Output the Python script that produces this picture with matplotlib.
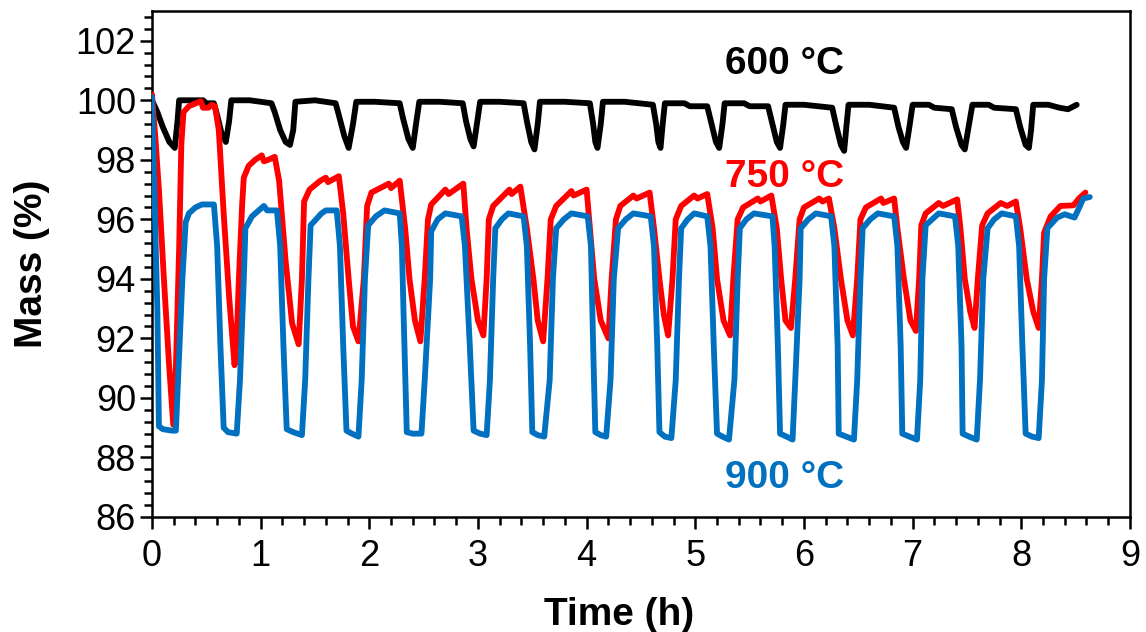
import matplotlib
matplotlib.use("Agg")
import matplotlib.pyplot as plt
from matplotlib.ticker import MultipleLocator, AutoMinorLocator

plt.rcParams['font.family'] = ['Liberation Sans', 'DejaVu Sans']

# ---- cyclic TGA data: time (h) and mass (%) ----
time_600 = [0.00, 0.05, 0.10, 0.16, 0.21, 0.235, 0.25, 0.40, 0.47, 0.50, 0.57,
            0.60, 0.64, 0.68, 0.71, 0.73, 0.90, 1.10,
            1.13, 1.18, 1.23, 1.27, 1.30, 1.32, 1.50, 1.69,
            1.72, 1.77, 1.81, 1.85, 1.88, 2.05, 2.28,
            2.31, 2.36, 2.40, 2.43, 2.46, 2.65, 2.86,
            2.89, 2.93, 2.96, 2.99, 3.02, 3.20, 3.42,
            3.45, 3.49, 3.52, 3.55, 3.57, 3.80, 4.03,
            4.06, 4.08, 4.10, 4.13, 4.15, 4.35, 4.61,
            4.64, 4.66, 4.68, 4.70, 4.72, 4.90, 4.95, 5.11,
            5.15, 5.19, 5.22, 5.25, 5.27, 5.45, 5.50, 5.67,
            5.71, 5.75, 5.78, 5.81, 5.83, 6.00, 6.26,
            6.30, 6.34, 6.37, 6.39, 6.41, 6.60, 6.83,
            6.87, 6.91, 6.94, 6.97, 7.00, 7.15, 7.20, 7.36,
            7.40, 7.45, 7.48, 7.51, 7.55, 7.70, 7.75, 7.95,
            7.99, 8.04, 8.07, 8.09, 8.11, 8.25, 8.35, 8.43, 8.51]
mass_600 = [100.0, 99.6, 99.1, 98.6, 98.4, 99.3, 100.0, 100.0, 100.0, 99.9, 99.9,
            99.5, 98.9, 98.6, 99.3, 100.0, 100.0, 99.9,
            99.6, 99.0, 98.6, 98.5, 99.0, 99.95, 100.0, 99.9,
            99.5, 98.8, 98.4, 99.2, 99.95, 99.95, 99.9,
            99.4, 98.7, 98.4, 99.2, 99.95, 99.95, 99.9,
            99.3, 98.7, 98.45, 99.2, 99.95, 99.95, 99.9,
            99.3, 98.6, 98.35, 99.2, 99.95, 99.95, 99.9,
            99.2, 98.6, 98.4, 99.2, 99.95, 99.95, 99.85,
            99.2, 98.6, 98.4, 99.2, 99.9, 99.9, 99.8, 99.8,
            99.2, 98.6, 98.4, 99.2, 99.9, 99.9, 99.8, 99.8,
            99.2, 98.6, 98.4, 99.2, 99.85, 99.85, 99.75,
            99.1, 98.5, 98.3, 99.1, 99.85, 99.85, 99.75,
            99.1, 98.6, 98.4, 99.1, 99.85, 99.85, 99.75, 99.7,
            99.1, 98.5, 98.35, 99.0, 99.85, 99.85, 99.75, 99.7,
            99.1, 98.5, 98.4, 99.0, 99.85, 99.85, 99.75, 99.7, 99.85]

time_750 = [0.00, 0.03, 0.064, 0.11, 0.156, 0.196, 0.22, 0.25, 0.27, 0.29, 0.34, 0.45, 0.47, 0.52, 0.55, 0.58,
            0.615, 0.66, 0.71, 0.76, 0.78, 0.80, 0.83, 0.845, 0.89, 0.95, 1.01, 1.03, 1.07, 1.13,
            1.17, 1.23, 1.29, 1.35, 1.38, 1.40, 1.45, 1.55, 1.60, 1.62, 1.72,
            1.76, 1.81, 1.85, 1.90, 1.95, 1.98, 2.02, 2.18, 2.20, 2.28,
            2.33, 2.37, 2.42, 2.47, 2.51, 2.54, 2.57, 2.70, 2.73, 2.865,
            2.895, 2.94, 3.00, 3.05, 3.08, 3.10, 3.14, 3.29, 3.31, 3.39,
            3.45, 3.51, 3.55, 3.60, 3.64, 3.67, 3.72, 3.86, 3.88, 4.00,
            4.03, 4.07, 4.13, 4.20, 4.23, 4.27, 4.31, 4.43, 4.46, 4.58,
            4.62, 4.67, 4.71, 4.75, 4.79, 4.82, 4.87, 4.99, 5.02, 5.11,
            5.16, 5.20, 5.26, 5.32, 5.35, 5.39, 5.44, 5.575, 5.60, 5.70,
            5.75, 5.79, 5.83, 5.88, 5.92, 5.96, 6.00, 6.14, 6.17, 6.23,
            6.28, 6.34, 6.40, 6.45, 6.49, 6.52, 6.57, 6.71, 6.73, 6.83,
            6.86, 6.92, 6.98, 7.03, 7.06, 7.08, 7.12, 7.24, 7.28, 7.41,
            7.44, 7.48, 7.53, 7.57, 7.60, 7.64, 7.69, 7.81, 7.87, 7.95,
            7.99, 8.05, 8.11, 8.16, 8.19, 8.21, 8.27, 8.36, 8.48, 8.53, 8.59]
mass_750 = [100.2, 98.8, 97.0, 94.0, 91.2, 89.1, 91.0, 95.0, 98.5, 99.6, 99.8, 99.97, 99.75, 99.75, 99.85, 99.8,
            99.0, 96.2, 93.4, 91.1, 92.0, 94.0, 96.5, 97.4, 97.8, 98.0, 98.15, 97.95, 98.0, 98.1,
            97.3, 94.6, 92.5, 91.8, 94.0, 96.6, 97.0, 97.3, 97.4, 97.25, 97.45,
            96.2, 94.0, 92.4, 91.9, 94.0, 96.45, 96.9, 97.2, 97.05, 97.3,
            95.7, 94.0, 92.6, 91.9, 94.0, 96.0, 96.5, 97.0, 96.85, 97.2,
            95.7, 94.0, 92.6, 92.1, 94.0, 96.0, 96.45, 97.0, 96.85, 97.1,
            95.7, 94.0, 92.6, 91.9, 94.0, 96.0, 96.45, 96.95, 96.8, 97.0,
            95.7, 94.0, 92.6, 92.0, 94.0, 96.0, 96.45, 96.8, 96.7, 96.9,
            95.7, 94.0, 92.8, 92.1, 94.0, 96.0, 96.45, 96.8, 96.7, 96.85,
            95.7, 94.0, 92.6, 92.1, 94.0, 96.0, 96.4, 96.7, 96.6, 96.8,
            95.7, 94.0, 92.6, 92.35, 94.0, 96.0, 96.4, 96.7, 96.6, 96.7,
            95.7, 94.0, 92.6, 92.1, 94.0, 96.0, 96.4, 96.7, 96.55, 96.7,
            95.7, 94.0, 92.6, 92.25, 94.0, 95.8, 96.2, 96.55, 96.45, 96.67,
            95.7, 94.0, 92.9, 92.35, 94.0, 95.8, 96.2, 96.55, 96.45, 96.6,
            95.7, 94.0, 92.9, 92.35, 94.0, 95.55, 96.1, 96.45, 96.47, 96.7, 96.9]

time_900 = [0.00, 0.02, 0.05, 0.064, 0.10, 0.185, 0.22, 0.24, 0.28, 0.31, 0.34, 0.40, 0.46, 0.57,
            0.60, 0.63, 0.66, 0.70, 0.78, 0.81, 0.845, 0.86, 0.92, 1.03, 1.06, 1.15,
            1.18, 1.21, 1.24, 1.30, 1.38, 1.41, 1.44, 1.46, 1.56, 1.60, 1.70,
            1.73, 1.76, 1.79, 1.84, 1.90, 1.93, 1.96, 1.99, 2.06, 2.14, 2.28,
            2.30, 2.315, 2.345, 2.40, 2.48, 2.51, 2.56, 2.57, 2.63, 2.70, 2.85,
            2.88, 2.925, 2.96, 3.02, 3.08, 3.11, 3.14, 3.16, 3.22, 3.28, 3.42,
            3.45, 3.48, 3.50, 3.55, 3.61, 3.66, 3.69, 3.72, 3.79, 3.86, 4.01,
            4.04, 4.06, 4.08, 4.13, 4.18, 4.22, 4.25, 4.29, 4.36, 4.43, 4.59,
            4.62, 4.65, 4.67, 4.72, 4.78, 4.82, 4.85, 4.87, 4.93, 4.99, 5.11,
            5.14, 5.17, 5.20, 5.25, 5.31, 5.36, 5.39, 5.41, 5.47, 5.54, 5.71,
            5.73, 5.76, 5.78, 5.84, 5.895, 5.92, 5.96, 5.97, 6.04, 6.11, 6.25,
            6.28, 6.31, 6.32, 6.39, 6.46, 6.49, 6.52, 6.54, 6.61, 6.68, 6.83,
            6.86, 6.89, 6.905, 6.97, 7.04, 7.07, 7.09, 7.12, 7.18, 7.24, 7.39,
            7.42, 7.45, 7.46, 7.52, 7.59, 7.62, 7.65, 7.69, 7.75, 7.82, 7.95,
            7.98, 8.01, 8.04, 8.10, 8.16, 8.19, 8.21, 8.24, 8.33, 8.40, 8.49, 8.54, 8.57, 8.63]
mass_900 = [100.1, 97.3, 92.9, 89.05, 88.95, 88.9, 88.9, 90.6, 94.0, 95.9, 96.2, 96.4, 96.5, 96.5,
            95.1, 91.75, 89.0, 88.85, 88.8, 90.6, 94.0, 95.7, 96.1, 96.45, 96.3, 96.3,
            95.1, 91.75, 88.95, 88.85, 88.75, 90.6, 94.0, 95.8, 96.2, 96.3, 96.3,
            95.1, 91.75, 88.9, 88.8, 88.7, 90.6, 94.0, 95.8, 96.1, 96.3, 96.2,
            95.1, 92.9, 88.85, 88.8, 88.8, 90.6, 94.0, 95.6, 96.0, 96.2, 96.1,
            95.1, 91.75, 88.9, 88.8, 88.75, 90.6, 94.0, 95.7, 96.0, 96.2, 96.1,
            95.1, 91.75, 88.85, 88.75, 88.7, 90.6, 94.0, 95.7, 96.0, 96.2, 96.1,
            95.1, 91.75, 88.85, 88.75, 88.7, 90.6, 94.0, 95.7, 96.0, 96.2, 96.1,
            95.1, 91.75, 88.85, 88.7, 88.65, 90.6, 94.0, 95.7, 96.0, 96.2, 96.1,
            95.1, 91.75, 88.8, 88.7, 88.6, 90.6, 94.0, 95.7, 96.0, 96.2, 96.1,
            95.1, 91.75, 88.8, 88.7, 88.6, 90.6, 94.0, 95.7, 96.0, 96.2, 96.1,
            95.1, 91.75, 88.8, 88.7, 88.6, 90.6, 94.0, 95.7, 96.0, 96.2, 96.1,
            95.1, 91.75, 88.8, 88.7, 88.6, 90.6, 94.0, 95.8, 96.0, 96.2, 96.1,
            95.1, 91.75, 88.8, 88.7, 88.6, 90.6, 94.0, 95.7, 96.0, 96.2, 96.1,
            95.1, 91.75, 88.8, 88.7, 88.65, 90.6, 94.0, 95.7, 96.06, 96.17, 96.06, 96.45, 96.7, 96.75]

series_labels = ["600 \u00b0C", "750 \u00b0C", "900 \u00b0C"]
series_colors = ["#000000", "#FF0000", "#0070C0"]

fig = plt.figure(figsize=(11.46, 6.32), dpi=100)
ax = fig.add_axes([0.1326, 0.182, 0.8534, 0.8006])

for t, m, c, z in zip([time_600, time_750, time_900],
                      [mass_600, mass_750, mass_900],
                      series_colors, [2, 3, 4]):
    ax.plot(t, m, color=c, lw=4.2, solid_joinstyle='round',
            solid_capstyle='round', zorder=z)

ax.set_xlim(0, 9)
ax.set_ylim(86, 103)
ax.xaxis.set_major_locator(MultipleLocator(1))
ax.xaxis.set_minor_locator(AutoMinorLocator(5))
ax.yaxis.set_major_locator(MultipleLocator(2))
ax.yaxis.set_minor_locator(AutoMinorLocator(5))

for s in ax.spines.values():
    s.set_linewidth(1.8)
ax.tick_params(which='major', direction='out', length=8.5, width=1.8,
               labelsize=26)
ax.tick_params(which='minor', direction='out', length=5.5, width=1.8)
ax.tick_params(axis='x', which='major', pad=7)
ax.tick_params(axis='y', which='major', pad=3)

ax.set_xlabel("Time (h)", fontsize=28, fontweight='bold')
ax.set_ylabel("Mass (%)", fontsize=28, fontweight='bold')
ax.xaxis.set_label_coords(0.478, -0.158)
ax.yaxis.set_label_coords(-0.104, 0.5)

label_y = [101.22, 97.42, 87.31]
for txt, c, y in zip(series_labels, series_colors, label_y):
    ax.text(5.82, y, txt, color=c, fontsize=28, fontweight='bold',
            ha='center', va='center')

fig.savefig("out.png", dpi=100)
